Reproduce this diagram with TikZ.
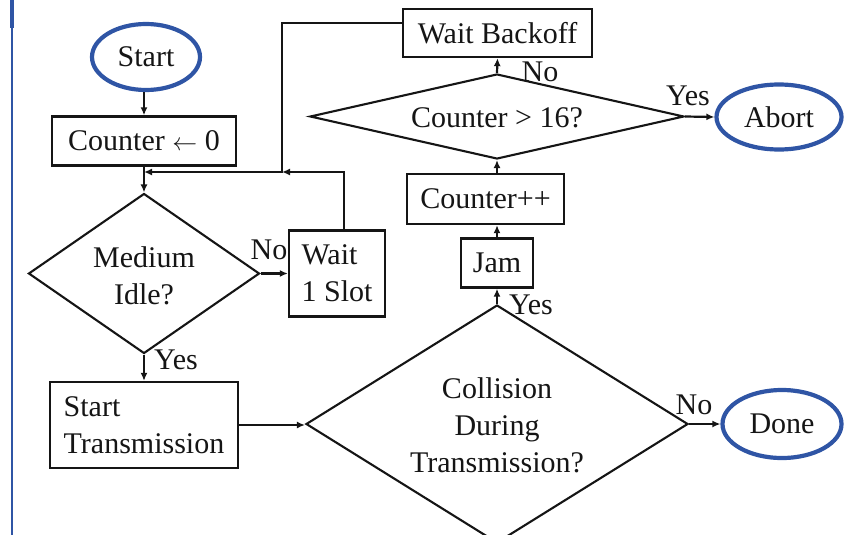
\documentclass[tikz,border=0pt]{standalone}
\usepackage{fontspec}
\setmainfont{Liberation Serif}
\usetikzlibrary{shapes.geometric,arrows.meta}
\definecolor{ovalblue}{HTML}{2F55A5}
\definecolor{ink}{HTML}{151515}
\begin{document}
\begin{tikzpicture}[x=1pt,y=-1pt,
  font=\fontsize{30}{37}\selectfont,
  box/.style={draw=ink, line width=2.3pt, rectangle, inner sep=0pt, text=ink},
  oval/.style={draw=ovalblue, line width=4.2pt, ellipse, inner sep=0pt, text=ink},
  dia/.style={draw=ink, line width=2.1pt, diamond, inner sep=0pt},
  txt/.style={text=ink, inner sep=0pt, align=center},
  lbl/.style={text=ink, inner sep=0pt},
  line/.style={draw=ink, line width=2.2pt},
  conn/.style={line, -{Latex[length=8pt,width=7pt]}}]
\useasboundingbox (0,0) rectangle (848,535);
% left blue rule
\draw[ovalblue, line width=1.8pt] (12,28) -- (12,535);
\draw[ovalblue, line width=4pt] (12,0) -- (12,28);

% nodes
\node[oval, minimum width=108pt, minimum height=66pt] (start) at (146,57) {Start};
\node[box, minimum width=184pt, minimum height=49pt] (counter) at (144,141) {Counter \(\leftarrow\) 0};
\node[dia, minimum width=231pt, minimum height=160pt] (idle) at (144,273.5) {};
\node[txt] (idletxt) at (144,276) {Medium\\Idle?};
\node[box, minimum width=96pt, minimum height=86pt, align=left] (wait1) at (337,273.5) {Wait\\1 Slot};
\node[box, minimum width=188pt, minimum height=86pt, align=left] (starttx) at (144,425) {Start\\Transmission};
\node[dia, minimum width=382pt, minimum height=238pt] (coll) at (497,424) {};
\node[txt] (colltxt) at (497,425) {Collision\\During\\Transmission?};
\node[box, minimum width=72pt, minimum height=49pt] (jam) at (497,263) {Jam};
\node[box, minimum width=157pt, minimum height=50pt] (cpp) at (485.5,199) {Counter++};
\node[dia, minimum width=374pt, minimum height=85pt] (ctr16) at (497,116.5) {};
\node[txt] (ctr16txt) at (497,118) {Counter > 16?};
\node[box, minimum width=189pt, minimum height=48pt] (waitbo) at (497.5,33) {Wait Backoff};
\node[oval, minimum width=125pt, minimum height=65pt] (abort) at (779,117) {Abort};
\node[oval, minimum width=119pt, minimum height=68pt] (done) at (782,424) {Done};

% connectors
\draw[conn] (start.south -| counter) -- (counter.north);
\draw[conn] (counter.south) -- (idle.north);
\draw[conn] (idle.east) -- (wait1.west);
\draw[conn] (idle.south) -- (starttx.north);
\draw[conn] (starttx.east) -- (starttx.east -| coll.west);
\draw[conn] (coll.north) -- (jam.south);
\draw[conn] (jam.north) -- (jam.north |- cpp.south);
\draw[conn] (ctr16.south |- cpp.north) -- (ctr16.south);
\draw[conn] (ctr16.north) -- (waitbo.south);
\draw[conn] (ctr16.east) -- (abort.west);
\draw[conn] (coll.east) -- (done.west);

% feedback loops
\coordinate (loopTop) at (282,23);
\coordinate (merge) at (144,172);
\coordinate (w1up) at (344,172);
\draw[conn] (waitbo.west |- loopTop) -- (loopTop) |- (merge);
\draw[conn] (w1up |- wait1.north) -- (w1up) -- (w1up -| loopTop);

% labels
\node[lbl] (noIdle) at (269,250) {No};
\node[lbl] (yesIdle) at (176,360) {Yes};
\node[lbl] (yesColl) at (531,305) {Yes};
\node[lbl] (noColl) at (694,405) {No};
\node[lbl] (noCtr) at (540,72) {No};
\node[lbl] (yesCtr) at (688,96) {Yes};
\end{tikzpicture}
\end{document}
